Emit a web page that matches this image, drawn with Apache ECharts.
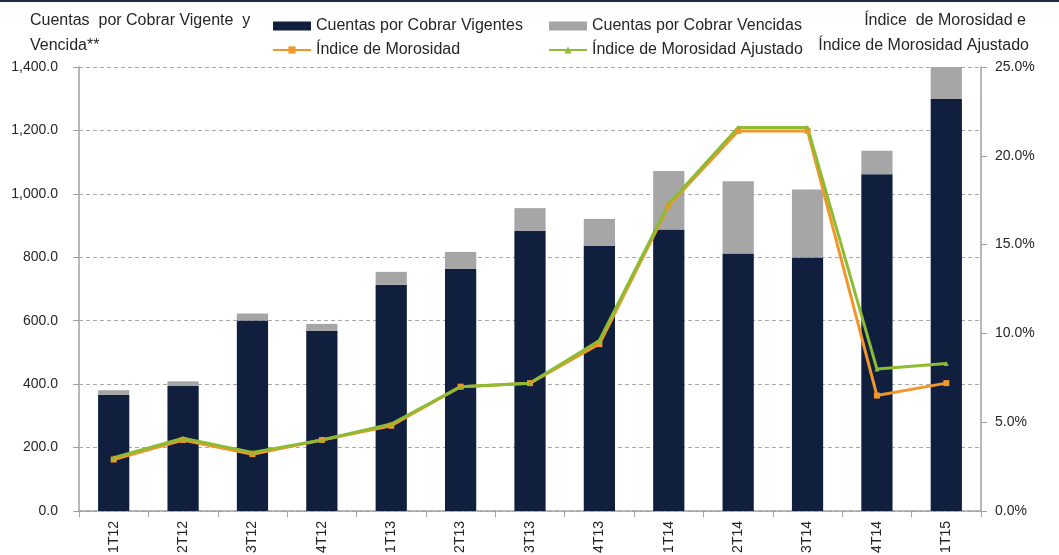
<!DOCTYPE html>
<html><head><meta charset="utf-8">
<script src="https://cdn.jsdelivr.net/npm/echarts@6/dist/echarts.min.js"></script>
<style>html,body{margin:0;padding:0;background:#fff}#c{width:1059px;height:555px}</style>
</head><body><div id="c"></div>
<script>
const categories = ['1T12','2T12','3T12','4T12','1T13','2T13','3T13','4T13','1T14','2T14','3T14','4T14','1T15'];
const vigentes = [366, 394, 601, 568, 713, 763, 883, 836, 888, 812, 799, 1062, 1299];
const vencidas = [15, 15, 22, 22, 41, 54, 72, 85, 184, 228, 215, 74, 101];
const indiceMorosidad = [2.9, 4.0, 3.2, 4.0, 4.8, 7.0, 7.2, 9.4, 17.2, 21.4, 21.4, 6.5, 7.2];
const indiceAjustado = [3.0, 4.1, 3.3, 4.0, 4.9, 7.0, 7.2, 9.6, 17.3, 21.6, 21.6, 8.0, 8.3];
const leftTicks = {min: 0, max: 1400, interval: 200};
const rightTicks = {min: 0, max: 25, interval: 5};

const font = '"Liberation Sans", Arial, sans-serif';
const txt = '#262626';
const axisGray = '#A0A0A0';
const chart = echarts.init(document.getElementById('c'), null, {renderer: 'canvas'});
chart.setOption({
  animation: false,
  textStyle: {fontFamily: font},
  grid: {left: 79, right: 78, top: 67, bottom: 44, containLabel: false, outerBoundsMode: 'none'},
  legend: [
    {left: 267, top: 13, orient: 'vertical', itemGap: 8, itemWidth: 38, itemHeight: 9,
     textStyle: {fontSize: 16, color: txt, fontFamily: font},
     data: [{name: 'Cuentas por Cobrar Vigentes', icon: 'rect'}, 'Índice de Morosidad']},
    {left: 543, top: 13, orient: 'vertical', itemGap: 8, itemWidth: 38, itemHeight: 9,
     textStyle: {fontSize: 16, color: txt, fontFamily: font},
     data: [{name: 'Cuentas por Cobrar Vencidas', icon: 'rect'}, 'Índice de Morosidad Ajustado']}
  ],
  graphic: [
    {type: 'rect', left: 0, top: 0, shape: {width: 1059, height: 2}, style: {fill: '#1F2A44'}},
    {type: 'text', left: 30, top: 13, style: {text: 'Cuentas  por Cobrar Vigente  y', font: '16px ' + font, fill: txt}},
    {type: 'text', left: 30, top: 38, style: {text: 'Vencida**', font: '16px ' + font, fill: txt}},
    {type: 'text', right: 33, top: 13, style: {text: 'Índice  de Morosidad e', font: '16px ' + font, fill: txt}},
    {type: 'text', right: 30, top: 38, style: {text: 'Índice de Morosidad Ajustado', font: '16px ' + font, fill: txt}}
  ],
  xAxis: {
    type: 'category', data: categories, boundaryGap: true,
    axisLine: {lineStyle: {color: axisGray, width: 1.5}},
    axisTick: {show: true, length: 6, lineStyle: {color: axisGray}},
    axisLabel: {rotate: 90, fontSize: 14, color: txt, margin: 10, fontFamily: font}
  },
  yAxis: [
    {type: 'value', min: leftTicks.min, max: leftTicks.max, interval: leftTicks.interval,
     axisLine: {show: true, lineStyle: {color: axisGray, width: 1.5}},
     axisTick: {show: true, length: 6, lineStyle: {color: axisGray}},
     axisLabel: {fontSize: 14, color: txt, margin: 21, fontFamily: font,
       formatter: v => v.toLocaleString('en-US', {minimumFractionDigits: 1, maximumFractionDigits: 1})},
     splitLine: {show: true, lineStyle: {color: '#A8A8A8', type: [4, 3], width: 1}}},
    {type: 'value', min: rightTicks.min, max: rightTicks.max, interval: rightTicks.interval, position: 'right',
     axisLine: {show: true, lineStyle: {color: axisGray, width: 1.5}},
     axisTick: {show: true, inside: false, length: 6, lineStyle: {color: axisGray}},
     axisLabel: {fontSize: 14, color: txt, margin: 14, fontFamily: font, formatter: v => v.toFixed(1) + '%'},
     splitLine: {show: false}}
  ],
  series: [
    {name: 'Cuentas por Cobrar Vigentes', type: 'bar', stack: 'c', data: vigentes, barWidth: '45%',
     itemStyle: {color: '#0F1F3D'}},
    {name: 'Cuentas por Cobrar Vencidas', type: 'bar', stack: 'c', data: vencidas, barWidth: '45%',
     itemStyle: {color: '#A6A6A6'}},
    {name: 'Índice de Morosidad', type: 'line', yAxisIndex: 1, data: indiceMorosidad,
     symbol: 'rect', symbolSize: 6, lineStyle: {color: '#F0962A', width: 3}, itemStyle: {color: '#F0962A'}},
    {name: 'Índice de Morosidad Ajustado', type: 'line', yAxisIndex: 1, data: indiceAjustado,
     symbol: 'triangle', symbolSize: 5, lineStyle: {color: '#8DBB34', width: 3}, itemStyle: {color: '#8DBB34'}}
  ]
});
</script></body></html>
